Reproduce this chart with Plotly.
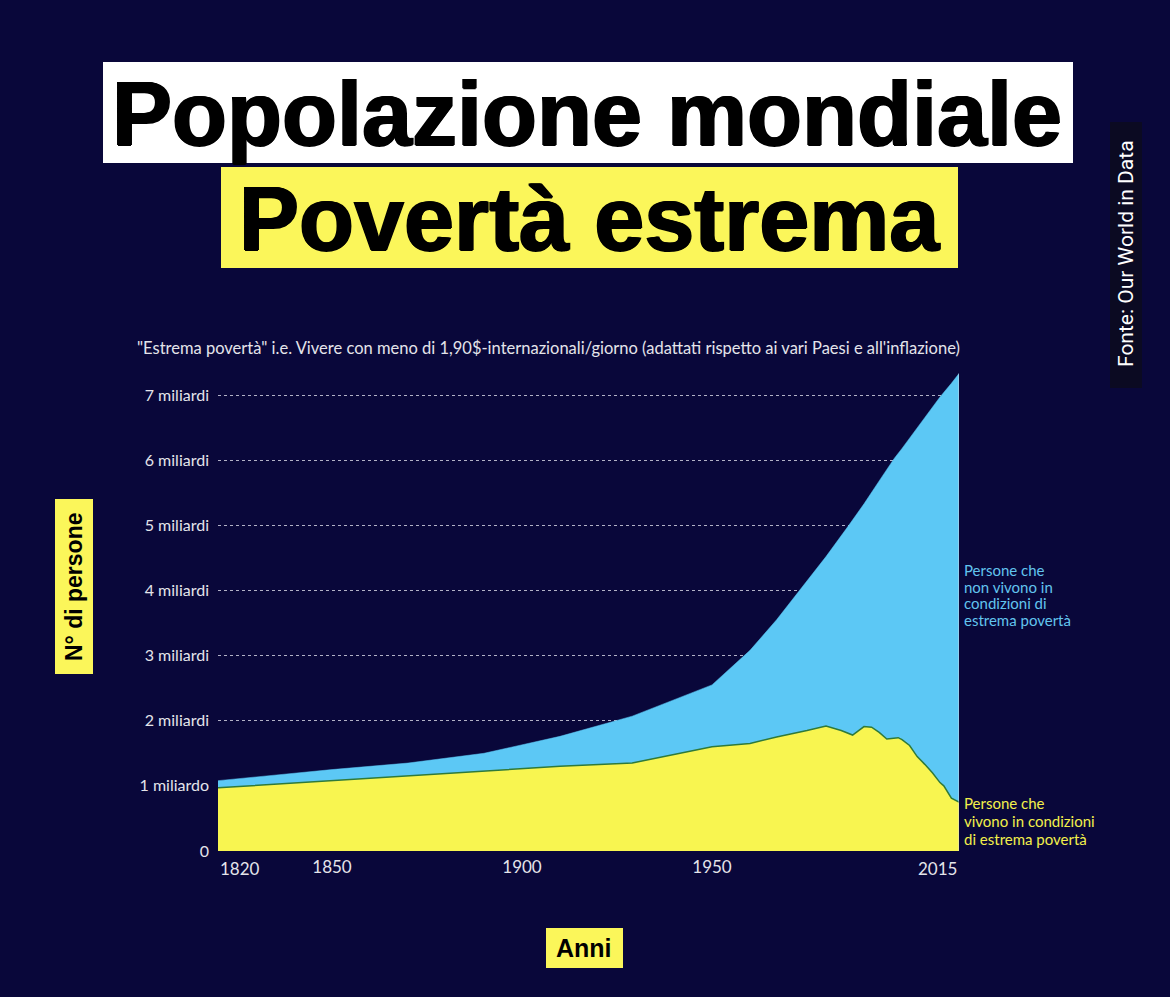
import plotly.graph_objects as go

# ---------------- data (billions of people) ----------------
total_years = [1820, 1850, 1870, 1890, 1910, 1929, 1950, 1960, 1967, 1973, 1980,
               1986, 1990, 1995, 1998, 2000, 2005, 2010, 2013, 2015]
total_pop = [1.08, 1.25, 1.35, 1.50, 1.76, 2.07, 2.55, 3.08, 3.55, 4.00, 4.52,
             5.00, 5.33, 5.77, 6.03, 6.18, 6.58, 6.97, 7.18, 7.33]

poverty_years = [1820, 1850, 1870, 1890, 1910, 1929, 1950, 1960, 1967, 1975, 1980,
                 1984, 1987, 1990, 1992, 1994, 1996, 1999, 2000, 2002, 2004, 2006,
                 2008, 2010, 2011, 2013, 2015]
poverty_pop = [0.97, 1.08, 1.15, 1.23, 1.30, 1.35, 1.60, 1.65, 1.75, 1.85, 1.92,
               1.85, 1.78, 1.91, 1.90, 1.82, 1.72, 1.74, 1.71, 1.62, 1.45, 1.33,
               1.20, 1.05, 1.00, 0.81, 0.75]

y_tickvals = [0, 1, 2, 3, 4, 5, 6, 7]
y_ticktext = ["0", "1 miliardo", "2 miliardi", "3 miliardi", "4 miliardi",
              "5 miliardi", "6 miliardi", "7 miliardi"]
x_tickvals = [1850, 1900, 1950]
x_edge_labels = [1820, 2015]

title1 = "Popolazione mondiale"
title2 = "Povertà estrema"
subtitle = "\"Estrema povertà\" i.e. Vivere con meno di 1,90$-internazionali/giorno (adattati rispetto ai vari Paesi e all'inflazione)"
label_nonpoor = ["Persone che", "non vivono in", "condizioni di", "estrema povertà"]
label_poor = ["Persone che", "vivono in condizioni", "di estrema povertà"]

# ---------------- styles ----------------
BG = "#09073a"
BLUE = "#5cc8f5"
YELLOW = "#f8f550"
BOX_YELLOW = "#fbf65a"
TXT = "#e4e4ea"
HEAVY = "1px 0 0 #000, -1px 0 0 #000, 0 1px 0 #000"

W, H = 1170, 997
L, R, T, B = 218, 211, 362, 146
PX_PER_BILLION = 65.14
plot_h = H - T - B
plot_w = W - L - R


def X(px):
    return (px - L) / plot_w


def Y(py):
    return (H - B - py) / plot_h


fig = go.Figure()
fig.add_trace(go.Scatter(
    x=total_years, y=total_pop, mode="lines", fill="tozeroy",
    fillcolor=BLUE, line=dict(color=BLUE, width=0.5), hoverinfo="skip",
    name="Persone che non vivono in condizioni di estrema povertà"))
fig.add_trace(go.Scatter(
    x=poverty_years, y=poverty_pop, mode="lines", fill="tozeroy",
    fillcolor=YELLOW, line=dict(color="#2f7a3a", width=1.5), hoverinfo="skip",
    name="Persone che vivono in condizioni di estrema povertà"))

shapes = [
    dict(type="rect", xref="paper", yref="paper", x0=X(103), x1=X(1073), y0=Y(163), y1=Y(62),
         fillcolor="white", line=dict(width=0), layer="above"),
    dict(type="rect", xref="paper", yref="paper", x0=X(221), x1=X(958), y0=Y(268), y1=Y(167),
         fillcolor=BOX_YELLOW, line=dict(width=0), layer="above"),
    dict(type="rect", xref="paper", yref="paper", x0=X(55), x1=X(93), y0=Y(674), y1=Y(499),
         fillcolor=BOX_YELLOW, line=dict(width=0), layer="above"),
    dict(type="rect", xref="paper", yref="paper", x0=X(546), x1=X(623), y0=Y(968), y1=Y(928),
         fillcolor=BOX_YELLOW, line=dict(width=0), layer="above"),
    dict(type="rect", xref="paper", yref="paper", x0=X(1110), x1=X(1142), y0=Y(388), y1=Y(122),
         fillcolor="#0b0a22", line=dict(width=0), layer="above"),
    dict(type="line", xref="x", yref="y", x0=total_years[-1], x1=total_years[-1],
         y0=0, y1=total_pop[-1], line=dict(color="rgba(220,220,230,0.8)", width=1)),
]

ann = []
ann.append(dict(text=f"<b>{title1}</b>", xref="paper", yref="paper", x=X(587), y=Y(114),
                xanchor="center", yanchor="middle", showarrow=False,
                font=dict(family="Liberation Sans, Arial", size=90, color="black", shadow=HEAVY)))
ann.append(dict(text=f"<b>{title2}</b>", xref="paper", yref="paper", x=X(589), y=Y(219),
                xanchor="center", yanchor="middle", showarrow=False,
                font=dict(family="Liberation Sans, Arial", size=90, color="black", shadow=HEAVY)))
ann.append(dict(text=subtitle, xref="paper", yref="paper", x=X(135), y=Y(348),
                xanchor="left", yanchor="middle", showarrow=False,
                font=dict(family="Lato", size=16.5, color=TXT)))
ann.append(dict(text="<b>N° di persone</b>", xref="paper", yref="paper", x=X(74), y=Y(587),
                xanchor="center", yanchor="middle", showarrow=False, textangle=-90,
                font=dict(family="Liberation Sans, Arial", size=23, color="black")))
ann.append(dict(text="<b>Anni</b>", xref="paper", yref="paper", x=X(584), y=Y(948),
                xanchor="center", yanchor="middle", showarrow=False,
                font=dict(family="Liberation Sans, Arial", size=25, color="black")))
ann.append(dict(text="Fonte: Our World in Data", xref="paper", yref="paper", x=X(1126), y=Y(254),
                xanchor="center", yanchor="middle", showarrow=False, textangle=-90,
                font=dict(family="Roboto", size=21, color="white")))
# x-axis edge labels (kept inside the plot width like the original)
ann.append(dict(text=str(x_edge_labels[0]), xref="x", yref="paper", x=x_edge_labels[0], y=Y(868),
                xanchor="left", yanchor="middle", showarrow=False,
                font=dict(family="Lato", size=17, color=TXT)))
ann.append(dict(text=str(x_edge_labels[1]), xref="x", yref="paper", x=x_edge_labels[1], y=Y(868),
                xanchor="right", yanchor="middle", showarrow=False,
                font=dict(family="Lato", size=17, color=TXT)))
for i, line in enumerate(label_nonpoor):
    ann.append(dict(text=line, xref="paper", yref="paper", x=X(962), y=Y(570 + i * 16.5),
                    xanchor="left", yanchor="middle", showarrow=False,
                    font=dict(family="Lato", size=15, color="#62c4ee")))
for i, line in enumerate(label_poor):
    ann.append(dict(text=line, xref="paper", yref="paper", x=X(962), y=Y(803 + i * 18),
                    xanchor="left", yanchor="middle", showarrow=False,
                    font=dict(family="Lato", size=15, color="#f3ef4b")))

fig.update_layout(
    width=W, height=H,
    margin=dict(l=L, r=R, t=T, b=B, autoexpand=False),
    paper_bgcolor=BG, plot_bgcolor=BG,
    showlegend=False,
    shapes=shapes, annotations=ann,
    xaxis=dict(range=[1820, 2015], tickvals=x_tickvals, ticktext=[str(v) for v in x_tickvals],
               showgrid=False, zeroline=False, showline=False, ticks="",
               ticklabelstandoff=4,
               tickfont=dict(family="Lato", size=17, color=TXT), fixedrange=True),
    yaxis=dict(range=[0, plot_h / PX_PER_BILLION], tickvals=y_tickvals, ticktext=y_ticktext,
               showgrid=True, gridcolor="rgba(235,235,245,0.75)", gridwidth=1, griddash="dot",
               zeroline=False, showline=False, ticks="", ticklabelstandoff=8,
               tickfont=dict(family="Lato", size=16, color=TXT), fixedrange=True),
)

fig.write_html("out.html")
